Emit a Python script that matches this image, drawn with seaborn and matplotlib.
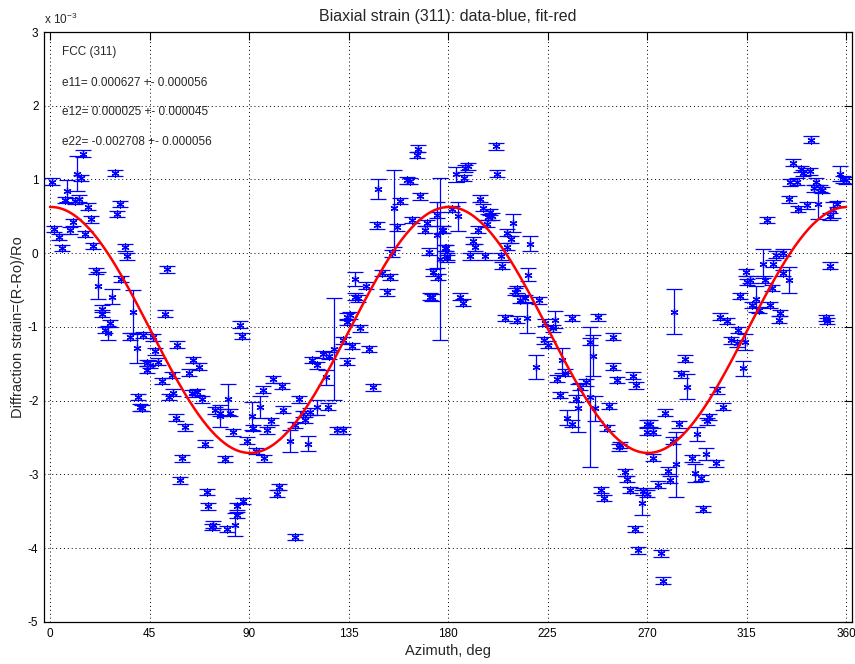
import numpy as np
import pandas as pd
import matplotlib
matplotlib.use("Agg")
import matplotlib.pyplot as plt
import seaborn as sns

# ---------------- data (strain in units of 1e-3) ----------------
azimuth = [
    0.8, 14.8, 12.0, 13.9, 29.3, 7.8, 6.8, 11.3, 13.3, 17.3, 31.7, 30.2, 18.4, 10.3, 1.8, 9.0,
    15.8, 4.2, 19.3, 5.3, 33.9, 35.0, 20.8, 21.9, 32.1, 27.9, 23.4, 23.4, 27.1, 24.9, 26.4, 37.7,
    36.2, 39.2, 42.2, 43.7, 44.0, 39.9, 40.7,
    52.8, 52.0, 46.7, 57.6, 47.5, 49.0, 45.2, 64.8, 67.5, 63.0, 55.0, 50.5, 55.8, 54.0, 64.1,
    66.3, 68.6, 41.5, 57.0, 61.1, 74.6, 76.9, 80.6, 81.4, 76.9, 82.9, 89.0, 70.1, 59.6, 79.1,
    85.9, 86.7, 58.8, 70.9, 71.6, 87.4, 84.4, 73.1, 73.9, 79.9, 83.7, 84.4,
    128.4, 134.2, 134.5, 132.7, 134.2, 123.3, 126.3, 120.9, 118.3, 124.8, 100.7, 104.8, 96.2,
    112.8, 95.0, 120.9, 125.9, 117.6, 91.2, 105.5, 114.6, 99.8, 115.3, 91.9, 98.0, 110.8, 129.7,
    108.5, 116.8, 93.2, 96.8, 103.7, 102.8, 110.8,
    166.6, 165.8, 161.3, 162.8, 148.5, 158.3, 167.4, 155.6, 147.8, 156.8, 163.6, 170.6, 169.6,
    174.9, 177.2, 154.5, 171.6, 179.1, 179.7, 137.9, 150.0, 153.8, 142.9, 175.6, 173.4, 137.9,
    139.4, 152.3, 171.9, 135.7, 140.2, 136.5, 144.4, 146.2, 132.7, 176.4, 174.9, 184.7,
    201.7, 189.2, 187.7, 183.6, 187.3, 202.3, 194.5, 196.0, 199.0, 199.8, 198.2, 181.7, 209.5,
    197.5, 193.7, 206.5, 208.3, 217.1, 191.5, 192.2, 206.5, 177.6, 178.7, 179.4, 190.0, 196.7,
    203.8, 204.2, 216.3, 211.1, 185.4, 186.6, 212.6, 214.8, 221.3, 205.8, 211.4, 215.9, 223.9,
    172.6, 210.3, 219.9,
    228.4, 235.9, 248.0, 227.6, 223.4, 225.4, 244.2, 254.5, 245.4, 231.4, 232.9, 229.2, 254.5,
    256.3, 263.5, 265.0, 242.2, 239.9, 230.7, 237.9, 239.0, 253.0, 233.7, 246.5, 244.0, 235.9,
    251.8, 257.8, 257.1, 260.1, 260.8, 262.3, 249.1, 250.6, 267.6, 268.3, 269.8, 264.6, 266.1,
    269.9, 270.2,
    314.8, 315.1, 312.1, 303.0, 306.3, 311.3, 307.9, 310.6, 282.2, 287.2, 285.2, 288.2, 313.6,
    301.5, 304.2, 278.2, 297.8, 297.0, 271.4, 284.5, 272.6, 292.6, 281.6, 296.6, 290.2, 301.2,
    272.9, 283.2, 279.6, 291.8, 294.3, 280.5, 274.8, 295.2, 276.2, 277.4,
    344.0, 336.2, 339.5, 340.7, 343.7, 357.3, 358.8, 360.0, 334.7, 337.7, 346.5, 345.7, 348.4,
    349.1, 334.0, 342.2, 338.5, 347.1, 355.9, 354.1, 352.6, 324.4, 331.6, 328.3, 352.8, 322.3,
    327.1, 316.7, 323.5, 331.4, 334.0, 326.4, 319.4, 317.4, 325.4, 320.5, 330.3, 329.6, 351.0,
    351.6, 314.4,
]
strain = [
    0.97, 1.35, 1.08, 1.02, 1.09, 0.84, 0.72, 0.71, 0.74, 0.63, 0.67, 0.53, 0.46, 0.42, 0.33, 0.31,
    0.26, 0.22, 0.10, 0.07, 0.08, -0.04, -0.24, -0.44, -0.35, -0.59, -0.75, -0.82, -0.95, -1.04, -1.08, -0.79,
    -1.13, -1.29, -1.11, -1.49, -1.58, -1.95, -2.09,
    -0.22, -0.82, -1.14, -1.24, -1.33, -1.47, -1.51, -1.45, -1.54, -1.62, -1.65, -1.73, -1.89, -1.95, -1.90,
    -1.88, -1.98, -2.10, -2.23, -2.36, -2.13, -2.16, -1.98, -2.16, -2.21, -2.43, -2.54, -2.58, -2.78, -2.79,
    -0.97, -1.12, -3.08, -3.24, -3.43, -3.36, -3.43, -3.71, -3.68, -3.74, -3.68, -3.55,
    -1.30, -0.93, -0.86, -1.18, -1.47, -1.37, -1.39, -1.52, -1.45, -1.68, -1.71, -1.80, -1.85,
    -1.98, -2.08, -2.09, -2.08, -2.15, -2.21, -2.12, -2.18, -2.28, -2.26, -2.37, -2.40, -2.33, -2.40,
    -2.55, -2.58, -2.68, -2.78, -3.17, -3.26, -3.85,
    1.42, 1.33, 0.99, 0.98, 0.87, 0.71, 0.77, 0.61, 0.38, 0.35, 0.45, 0.41, 0.32,
    0.52, 0.32, 0.00, 0.02, 0.07, -0.07, -0.35, -0.27, -0.32, -0.44, -0.32, -0.26, -0.59,
    -0.61, -0.53, -0.59, -0.84, -1.02, -1.26, -1.30, -1.82, -2.40, -0.08, 0.25, 0.50,
    1.45, 1.18, 1.15, 1.07, 1.02, 1.08, 0.74, 0.62, 0.56, 0.50, 0.49, 0.60, 0.41,
    0.40, 0.32, 0.28, 0.19, 0.13, 0.17, 0.08, 0.09, 0.32, 0.07, -0.04, -0.04, -0.04,
    -0.04, -0.17, -0.29, -0.49, -0.59, -0.67, -0.63, -0.61, -0.64, -0.88, -0.90, -0.88, -0.94,
    -0.60, -0.52, -1.54,
    -0.90, -0.88, -0.87, -1.02, -1.18, -1.24, -1.20, -1.13, -1.39, -1.45, -1.62, -1.70, -1.54,
    -1.72, -1.66, -1.79, -1.75, -1.81, -1.92, -1.97, -2.10, -2.07, -2.23, -2.10, -1.95, -2.31,
    -2.37, -2.60, -2.63, -2.97, -3.06, -3.21, -3.21, -3.32, -3.38, -3.23, -3.26, -3.74, -4.03,
    -2.31, -2.42,
    -0.26, -0.39, -0.58, -0.86, -0.92, -1.04, -1.18, -1.22, -0.79, -1.43, -1.64, -1.81, -1.56,
    -1.86, -2.08, -2.16, -2.22, -2.28, -2.31, -2.32, -2.42, -2.45, -2.54, -2.72, -2.78, -2.85,
    -2.77, -2.86, -2.95, -2.98, -3.05, -3.07, -3.14, -3.47, -4.07, -4.44,
    1.54, 1.23, 1.14, 1.09, 1.11, 1.08, 1.00, 0.99, 0.96, 0.97, 0.97, 0.88, 0.88,
    0.86, 0.73, 0.65, 0.60, 0.67, 0.67, 0.59, 0.50, 0.45, 0.01, -0.02, -0.17, -0.14,
    -0.14, -0.36, -0.36, -0.27, -0.36, -0.47, -0.62, -0.70, -0.70, -0.77, -0.81, -0.90, -0.88,
    -0.92, -1.20,
]
# points with a visibly long error bar: (azimuth, strain, half length); all others are small
large_err_azimuth = [12.0, 7.8, 21.9, 27.9, 26.4, 37.7, 39.2, 80.6, 76.9, 83.7,
                     128.4, 124.8, 95.0, 120.9, 91.2, 108.5, 116.8, 148.5, 155.6, 176.4,
                     174.9, 184.7, 137.9, 183.6, 209.5, 217.1, 216.3, 215.9, 219.9, 228.4,
                     245.4, 231.4, 239.0, 233.7, 246.5, 244.0, 267.6, 282.2, 288.2, 313.6,
                     292.6, 296.6, 283.2, 291.8, 357.3, 347.1, 354.1, 322.3, 334.0, 319.4,
                     314.4]
large_err_strain = [1.08, 0.84, -0.44, -0.59, -1.08, -0.79, -1.29, -1.98, -2.21, -3.68,
                    -1.30, -1.68, -2.08, -2.09, -2.21, -2.55, -2.58, 0.87, 0.61, -0.08,
                    0.25, 0.50, -0.35, 1.07, 0.41, 0.13, -0.29, -0.88, -1.54, -0.90,
                    -1.39, -1.45, -2.10, -2.23, -2.10, -1.95, -3.38, -0.79, -1.81, -1.56,
                    -2.45, -2.72, -2.86, -2.98, 1.08, 0.67, 0.59, -0.14, -0.36, -0.62,
                    -1.20]
large_err_size = [0.24, 0.15, 0.18, 0.10, 0.10, 0.29, 0.20, 0.21, 0.15, 0.16,
                  0.69, 0.10, 0.15, 0.10, 0.19, 0.15, 0.10, 0.13, 0.52, 1.10,
                  0.45, 0.20, 0.10, 0.10, 0.12, 0.10, 0.09, 0.20, 0.16, 0.12,
                  0.28, 0.17, 0.33, 0.10, 0.17, 0.95, 0.17, 0.30, 0.17, 0.10,
                  0.10, 0.08, 0.44, 0.12, 0.10, 0.20, 0.11, 0.20, 0.18, 0.18,
                  0.11]
error_default = 0.045

# fit parameters (from the chart annotation)
e11, e11_err = 0.000627, 0.000056
e12, e12_err = 0.000025, 0.000045
e22, e22_err = -0.002708, 0.000056

x_ticks = [0, 45, 90, 135, 180, 225, 270, 315, 360]
y_ticks = [-5, -4, -3, -2, -1, 0, 1, 2, 3]

# ---------------- derived ----------------
azimuth = np.array(azimuth)
strain = np.array(strain)
errors = np.full(len(azimuth), error_default)
for x0, y0, e in zip(large_err_azimuth, large_err_strain, large_err_size):
    d = (azimuth - x0) ** 2 + ((strain - y0) * 30) ** 2
    errors[int(np.argmin(d))] = e

fit_phi = np.linspace(0, 360, 361)
ph = np.deg2rad(fit_phi)
fit_strain = (e11 * np.cos(ph) ** 2 + e12 * np.sin(2 * ph) + e22 * np.sin(ph) ** 2) * 1e3

# ---------------- plotting ----------------
sns.set_style("white")
plt.rcParams["font.family"] = ["Liberation Sans", "DejaVu Sans"]
plt.rcParams["mathtext.fontset"] = "custom"
plt.rcParams["mathtext.rm"] = "Liberation Sans"

fig = plt.figure(figsize=(8.55, 6.64), dpi=100)
ax = fig.add_axes([0.0515, 0.0633, 0.945, 0.8885])

blue = "#0000FF"
df = pd.DataFrame({"azimuth": azimuth, "strain": strain})
fit_df = pd.DataFrame({"azimuth": fit_phi, "strain": fit_strain})

ax.errorbar(azimuth, strain, yerr=errors, fmt="none", ecolor=blue,
            elinewidth=0.9, capsize=5.5, capthick=0.9, zorder=2)
sns.scatterplot(data=df, x="azimuth", y="strain", marker=(6, 2, 0), s=26,
                color=blue, edgecolor=blue, linewidth=0.9, ax=ax, zorder=3, legend=False)
sns.lineplot(data=fit_df, x="azimuth", y="strain", color="red", linewidth=1.8,
             ax=ax, zorder=4, legend=False)

ax.set_xlim(-2.7, 362.7)
ax.set_ylim(-5, 3)
ax.set_xticks(x_ticks)
ax.set_yticks(y_ticks)
ax.set_xticklabels([str(t) for t in x_ticks])
ax.set_yticklabels([str(t) for t in y_ticks])
ax.grid(True, linestyle=(0, (1, 3)), color="black", linewidth=0.7)
ax.tick_params(direction="in", length=6, width=0.8, top=True, right=True,
               labelsize=8.5, colors="black", pad=4)
for sp in ax.spines.values():
    sp.set_visible(True)
    sp.set_color("black")
    sp.set_linewidth(0.9)

ax.set_xlabel("Azimuth, deg", fontsize=10.5, labelpad=3)
ax.set_ylabel("Diffraction strain=(R-Ro)/Ro", fontsize=10.5, labelpad=2)
ax.set_title("Biaxial strain (311): data-blue, fit-red", fontsize=11.5, pad=8)
ax.text(0.0, 1.008, r"x 10$^{-3}$", transform=ax.transAxes, fontsize=8.5,
        ha="left", va="bottom")

ax.text(5.5, 2.73, "FCC (311)", fontsize=8.5, va="center")
ax.text(5.5, 2.31, f"e11= {e11:.6f} +- {e11_err:.6f}", fontsize=8.5, va="center")
ax.text(5.5, 1.91, f"e12= {e12:.6f} +- {e12_err:.6f}", fontsize=8.5, va="center")
ax.text(5.5, 1.51, f"e22= {e22:.6f} +- {e22_err:.6f}", fontsize=8.5, va="center")

fig.savefig("out.png", dpi=100)
